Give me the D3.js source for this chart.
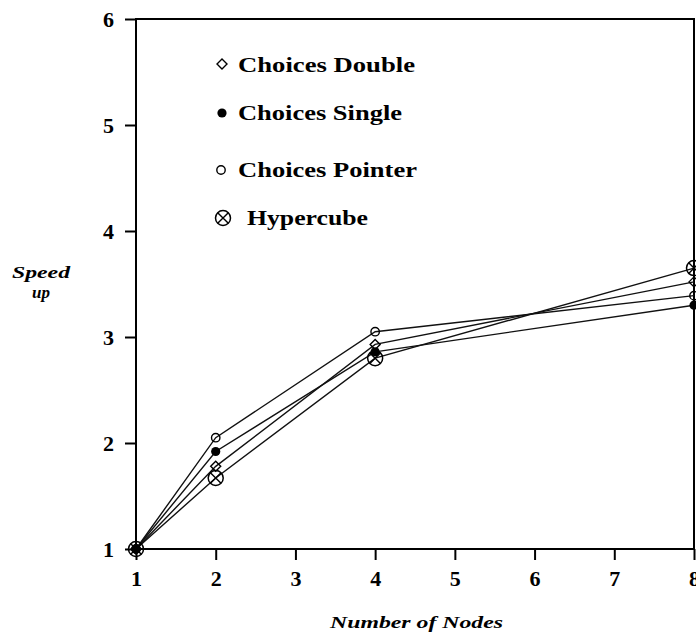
<!DOCTYPE html>
<html>
<head>
<meta charset="utf-8">
<script src="https://cdn.jsdelivr.net/npm/d3@7"></script>
<style>
  html, body { margin: 0; padding: 0; background: #fff; }
  svg { display: block; }
</style>
</head>
<body>
<svg id="chart" width="696" height="633"></svg>
<script>
// Speedup measurements per node count
const nodes = [1, 2, 4, 8];
const choicesDouble  = [1.0, 1.78, 2.93, 3.52];
const choicesSingle  = [1.0, 1.92, 2.86, 3.30];
const choicesPointer = [1.0, 2.05, 3.05, 3.39];
const hypercube      = [1.0, 1.67, 2.80, 3.65];

const xTicks = [1, 2, 3, 4, 5, 6, 7, 8];
const yTicks = [1, 2, 3, 4, 5, 6];
const seriesNames = ["Choices Double", "Choices Single", "Choices Pointer", "Hypercube"];
const seriesValues = [choicesDouble, choicesSingle, choicesPointer, hypercube];
const seriesMarkers = ["diamond", "dot", "ring", "crossed"];

const svg = d3.select("#chart");
const plotLeft = 136, plotRight = 694, plotTop = 19, plotBottom = 549;

const x = d3.scaleLinear().domain([1, 8]).range([plotLeft, plotRight]);
const y = d3.scaleLinear().domain([1, 6]).range([plotBottom, plotTop]);

const serif = "'Liberation Serif', 'Times New Roman', serif";

// Axes with outward ticks
const xAxis = svg.append("g")
  .attr("transform", `translate(0,${plotBottom})`)
  .call(d3.axisBottom(x).tickValues(xTicks).tickFormat(d3.format("d")).tickSize(11).tickSizeOuter(0).tickPadding(10));
const yAxis = svg.append("g")
  .attr("transform", `translate(${plotLeft},0)`)
  .call(d3.axisLeft(y).tickValues(yTicks).tickFormat(d3.format("d")).tickSize(11).tickSizeOuter(0).tickPadding(11));

[xAxis, yAxis].forEach(g => {
  g.select(".domain").remove();
  g.selectAll(".tick line").attr("stroke", "#000").attr("stroke-width", 2);
  g.selectAll(".tick text")
    .attr("fill", "#000")
    .style("font-family", serif)
    .style("font-weight", "bold")
    .style("font-size", "22px");
});
yAxis.selectAll(".tick text").attr("dy", "0.34em");

// Plot frame
svg.append("rect")
  .attr("x", plotLeft).attr("y", plotTop)
  .attr("width", plotRight - plotLeft).attr("height", plotBottom - plotTop)
  .attr("fill", "none").attr("stroke", "#000").attr("stroke-width", 2);

// Series lines
const line = d3.line().x((d, i) => x(nodes[i])).y(d => y(d));
seriesValues.forEach(vals => {
  svg.append("path")
    .datum(vals)
    .attr("d", line)
    .attr("fill", "none")
    .attr("stroke", "#111")
    .attr("stroke-width", 1.4);
});

function drawMarker(g, kind, cx, cy) {
  if (kind === "diamond") {
    const s = 5;
    g.append("path")
      .attr("d", `M${cx},${cy - s}L${cx + s},${cy}L${cx},${cy + s}L${cx - s},${cy}Z`)
      .attr("fill", "none").attr("stroke", "#000").attr("stroke-width", 1.4);
  } else if (kind === "dot") {
    g.append("circle").attr("cx", cx).attr("cy", cy).attr("r", 4.6).attr("fill", "#000");
  } else if (kind === "ring") {
    g.append("circle").attr("cx", cx).attr("cy", cy).attr("r", 4.2)
      .attr("fill", "none").attr("stroke", "#000").attr("stroke-width", 1.4);
  } else {
    const r = 7.5, d = r * Math.SQRT1_2;
    g.append("circle").attr("cx", cx).attr("cy", cy).attr("r", r)
      .attr("fill", "none").attr("stroke", "#000").attr("stroke-width", 1.5);
    g.append("path")
      .attr("d", `M${cx - d},${cy - d}L${cx + d},${cy + d}M${cx - d},${cy + d}L${cx + d},${cy - d}`)
      .attr("stroke", "#000").attr("stroke-width", 1.4);
  }
}

// Markers at each data point
const markers = svg.append("g");
seriesValues.forEach((vals, s) => {
  vals.forEach((v, i) => drawMarker(markers, seriesMarkers[s], x(nodes[i]), y(v)));
});

// Legend
const legendRows = [
  { mx: 222, my: 64,  tx: 238, ty: 72,  w: 177 },
  { mx: 222, my: 113, tx: 238, ty: 120, w: 164 },
  { mx: 221, my: 170, tx: 238, ty: 177, w: 179 },
  { mx: 223, my: 218, tx: 247, ty: 225, w: 121 }
];
const legend = svg.append("g");
seriesNames.forEach((name, i) => {
  const r = legendRows[i];
  drawMarker(legend, seriesMarkers[i], r.mx, r.my);
  legend.append("text")
    .attr("x", r.tx).attr("y", r.ty)
    .attr("textLength", r.w)
    .attr("lengthAdjust", "spacingAndGlyphs")
    .style("font-family", serif)
    .style("font-weight", "bold")
    .style("font-size", "22px")
    .attr("fill", "#000")
    .text(name);
});

// Axis titles
svg.append("text")
  .attr("x", 12).attr("y", 278)
  .attr("textLength", 58).attr("lengthAdjust", "spacingAndGlyphs")
  .style("font-family", serif).style("font-style", "italic").style("font-weight", "bold")
  .style("font-size", "17px").attr("fill", "#000")
  .text("Speed");
svg.append("text")
  .attr("x", 41).attr("y", 298).attr("text-anchor", "middle")
  .style("font-family", serif).style("font-style", "italic").style("font-weight", "bold")
  .style("font-size", "17px").attr("fill", "#000")
  .text("up");
svg.append("text")
  .attr("x", 330).attr("y", 628)
  .attr("textLength", 173).attr("lengthAdjust", "spacingAndGlyphs")
  .style("font-family", serif).style("font-style", "italic").style("font-weight", "bold")
  .style("font-size", "17px").attr("fill", "#000")
  .text("Number of Nodes");
</script>
</body>
</html>
